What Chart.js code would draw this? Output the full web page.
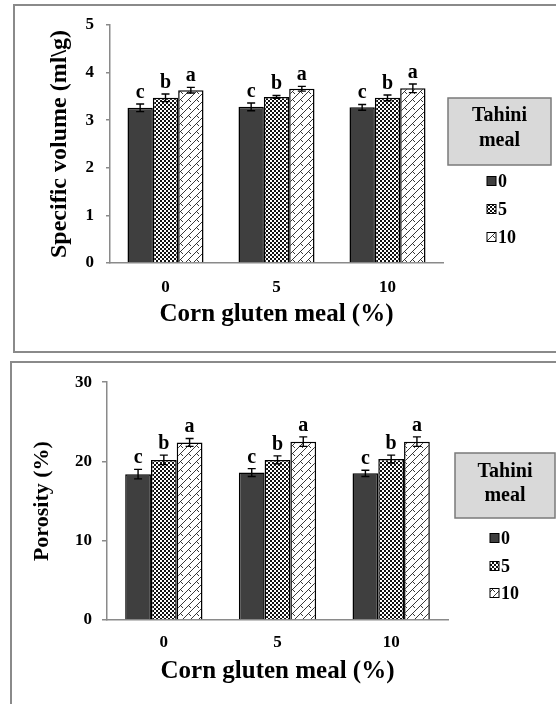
<!DOCTYPE html>
<html><head><meta charset="utf-8">
<script src="https://cdn.jsdelivr.net/npm/chart.js@4.4.0/dist/chart.umd.min.js"></script>
<style>
html,body{margin:0;padding:0;background:#fff;width:556px;height:704px;overflow:hidden;position:relative;}
.frame{position:absolute;border:2px solid #8a8a8a;box-sizing:border-box;}
#f1{left:13px;top:4px;width:560px;height:349px;}
#f2{left:10px;top:361px;width:560px;height:360px;}
canvas{position:absolute;}
#c1{left:0;top:0;}
#c2{left:0;top:362px;}
</style></head><body>
<div class="frame" id="f1"></div><div class="frame" id="f2"></div>
<canvas id="c1" width="556" height="352"></canvas>
<canvas id="c2" width="556" height="342"></canvas>
<script>
// ---------- data ----------
const categories = ['0', '5', '10'];          // Corn gluten meal (%)
const tahiniLevels = ['0', '5', '10'];        // Tahini meal (%)
const svTahini0  = [3.26, 3.28, 3.27];
const svTahini5  = [3.47, 3.49, 3.47];
const svTahini10 = [3.63, 3.66, 3.67];
const svErr0  = [0.08, 0.08, 0.06];
const svErr5  = [0.08, 0.03, 0.06];
const svErr10 = [0.06, 0.05, 0.09];
const porTahini0  = [18.4, 18.6, 18.5];
const porTahini5  = [20.2, 20.2, 20.3];
const porTahini10 = [22.4, 22.5, 22.5];
const porErr0  = [0.6, 0.5, 0.4];
const porErr5  = [0.6, 0.5, 0.5];
const porErr10 = [0.5, 0.6, 0.6];
const letters0  = ['c', 'c', 'c'];
const letters5  = ['b', 'b', 'b'];
const letters10 = ['a', 'a', 'a'];
const svAxisMax = 5, svStep = 1;
const porAxisMax = 30, porStep = 10;
const legendTitle = ['Tahini', 'meal'];
const svTitle = 'Specific volume (ml\\g)';
const porTitle = 'Porosity (%)';
const xTitle = 'Corn gluten meal (%)';

// ---------- styles ----------
const SERIF = "'Liberation Serif','Times New Roman',serif";
Chart.defaults.font.family = SERIF;
Chart.defaults.font.weight = 'bold';
Chart.defaults.color = '#000';

function makeChecker() {
  const c = document.createElement('canvas'); c.width = 4; c.height = 4;
  const g = c.getContext('2d');
  g.fillStyle = '#fff'; g.fillRect(0, 0, 4, 4);
  g.fillStyle = '#111'; g.fillRect(0, 0, 2, 2); g.fillRect(2, 2, 2, 2);
  return g.createPattern(c, 'repeat');
}
function makeZigzag() {
  const s = 8;
  const c = document.createElement('canvas'); c.width = s; c.height = s;
  const g = c.getContext('2d');
  g.fillStyle = '#fff'; g.fillRect(0, 0, s, s);
  g.strokeStyle = '#222'; g.lineWidth = 0.9;
  g.beginPath();
  g.moveTo(0, s); g.lineTo(s, 0);
  g.moveTo(4.5, 3.5); g.lineTo(7, 6);
  g.stroke();
  return g.createPattern(c, 'repeat');
}
const fillDark = '#3f3f3f';
const fillChecker = makeChecker();
const fillZig = makeZigzag();

const annotPlugin = {
  id: 'annot',
  afterDatasetsDraw(chart) {
    const ctx = chart.ctx, ys = chart.scales.y;
    ctx.save();
    chart.data.datasets.forEach((ds, i) => {
      const meta = chart.getDatasetMeta(i);
      meta.data.forEach((bar, j) => {
        const v = ds.data[j], e = ds.errors[j];
        const yHi = ys.getPixelForValue(v + e), yLo = ys.getPixelForValue(v - e);
        ctx.strokeStyle = '#000'; ctx.lineWidth = 1.4;
        ctx.beginPath();
        ctx.moveTo(bar.x, yHi); ctx.lineTo(bar.x, yLo);
        ctx.moveTo(bar.x - 4, yHi); ctx.lineTo(bar.x + 4, yHi);
        ctx.moveTo(bar.x - 4, yLo); ctx.lineTo(bar.x + 4, yLo);
        ctx.stroke();
        ctx.fillStyle = '#000';
        ctx.font = 'bold 20px ' + SERIF;
        ctx.textAlign = 'center'; ctx.textBaseline = 'alphabetic';
        ctx.fillText(ds.letters[j], bar.x, yHi - 6);
      });
    });
    ctx.restore();
  }
};

const boxLegendPlugin = {
  id: 'boxLegend',
  afterDraw(chart, args, o) {
    const ctx = chart.ctx;
    ctx.save();
    ctx.fillStyle = '#d9d9d9'; ctx.strokeStyle = '#7a7a7a'; ctx.lineWidth = 1.5;
    ctx.fillRect(o.bx, o.by, o.bw, o.bh); ctx.strokeRect(o.bx, o.by, o.bw, o.bh);
    ctx.fillStyle = '#000'; ctx.font = 'bold 20px ' + SERIF;
    ctx.textAlign = 'center'; ctx.textBaseline = 'middle';
    legendTitle.forEach((t, k) => ctx.fillText(t, o.bx + o.bw / 2, o.ty[k]));
    ctx.font = 'bold 18px ' + SERIF; ctx.textAlign = 'left';
    chart.data.datasets.forEach((ds, i) => {
      const y = o.iy[i];
      ctx.fillStyle = ds.backgroundColor;
      ctx.fillRect(o.sx, y - 4.5, 9, 9);
      ctx.strokeStyle = '#000'; ctx.lineWidth = 1;
      ctx.strokeRect(o.sx, y - 4.5, 9, 9);
      ctx.fillStyle = '#000';
      ctx.fillText(ds.label, o.sx + 11, y + 1);
    });
    ctx.restore();
  }
};

function buildChart(id, vals, errs, yMax, yStep, yTitle, L) {
  const fills = [fillDark, fillChecker, fillZig];
  const lets = [letters0, letters5, letters10];
  const datasets = tahiniLevels.map((lab, i) => ({
    label: lab,
    data: vals[i],
    errors: errs[i],
    letters: lets[i],
    backgroundColor: fills[i],
    borderColor: '#000',
    borderWidth: 1.5,
    borderSkipped: 'bottom',
    barPercentage: 1.0,
    categoryPercentage: L.cat
  }));
  return new Chart(document.getElementById(id), {
    type: 'bar',
    data: { labels: categories, datasets },
    options: {
      responsive: false, animation: false,
      layout: { padding: { top: L.padTop, right: L.padRight, bottom: 0, left: 0 } },
      plugins: {
        legend: { display: false }, tooltip: { enabled: false },
        boxLegend: L.legend
      },
      scales: {
        x: {
          grid: { display: false, drawTicks: false },
          border: { display: true, color: '#8a8a8a', width: 1.5 },
          ticks: { font: { size: 17, weight: 'bold' }, padding: L.xTickPad, color: '#000' },
          title: { display: true, text: xTitle, font: { size: 25, weight: 'bold' }, padding: { top: 0, bottom: L.xTitlePad }, color: '#000' },
          afterFit: s => { s.height = L.xH; }
        },
        y: {
          min: 0, max: yMax,
          grid: { display: true, drawOnChartArea: false, drawTicks: true, tickLength: L.tickLen, color: '#8a8a8a', lineWidth: 1.5 },
          border: { display: true, color: '#8a8a8a', width: 1.5 },
          ticks: { stepSize: yStep, font: { size: 17, weight: 'bold' }, padding: L.yTickPad, color: '#000' },
          title: { display: true, text: yTitle, font: { size: L.yTitleSize, weight: 'bold' }, padding: { top: L.yTitlePad, bottom: 0 }, color: '#000' },
          afterFit: s => { s.width = L.yW; }
        }
      }
    },
    plugins: [annotPlugin, boxLegendPlugin]
  });
}

buildChart('c1',
  [svTahini0, svTahini5, svTahini10],
  [svErr0, svErr5, svErr10],
  svAxisMax, svStep, svTitle,
  { cat: 0.685, padTop: 25, padRight: 113, xTickPad: 14, xTitlePad: 22, xH: 89,
    tickLen: 4, yTickPad: 12, yTitleSize: 24, yTitlePad: 45, yW: 110,
    legend: { bx: 448, by: 98, bw: 103, bh: 67, ty: [116, 141], sx: 487, iy: [181, 209, 237] } });

buildChart('c2',
  [porTahini0, porTahini5, porTahini10],
  [porErr0, porErr5, porErr10],
  porAxisMax, porStep, porTitle,
  { cat: 0.68, padTop: 20, padRight: 108, xTickPad: 12, xTitlePad: 17, xH: 84,
    tickLen: 5, yTickPad: 10, yTitleSize: 22, yTitlePad: 29, yW: 107,
    legend: { bx: 455, by: 91, bw: 100, bh: 65, ty: [110, 134], sx: 490, iy: [176, 204, 231] } });
</script>
</body></html>
